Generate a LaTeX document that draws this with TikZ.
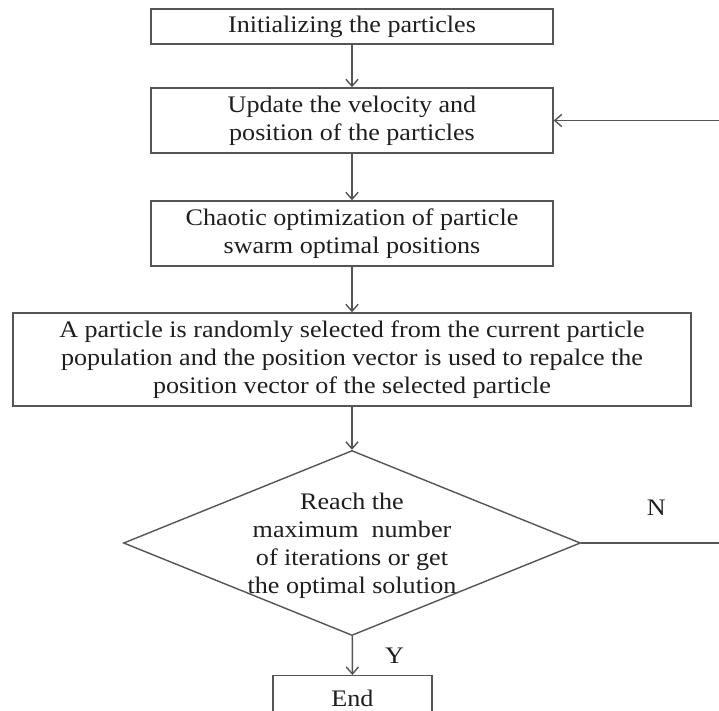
\documentclass[tikz,border=0pt]{standalone}
\usepackage{fontspec}
\setmainfont{Liberation Serif}[FakeStretch=1.1]
\usetikzlibrary{shapes.geometric,arrows.meta}
\definecolor{linegray}{HTML}{555555}
\definecolor{inkgray}{HTML}{1E1E1E}
\begin{document}
\begin{tikzpicture}[
box/.style={draw=linegray,line width=0.8pt,rectangle,inner sep=0pt,align=center,
  text=inkgray,font=\fontsize{13.5}{15.9}\selectfont,minimum width=8.04cm},
flow/.style={draw=linegray,line width=0.8pt,-{Straight Barb[length=4pt,width=7pt]}},
lbl/.style={text=inkgray,font=\fontsize{13.5}{15.9}\selectfont},
]
\clip (0,0) rectangle (14.38,-14.2);
\node[box,minimum height=0.70cm] (init) at (7.04,-0.53) {Initializing the particles};
\node[box,minimum height=1.30cm] (upd) at (7.04,-2.41)
  {Update the velocity and\\position of the particles};
\node[box,minimum height=1.30cm] (chaos) at (7.04,-4.67)
  {Chaotic optimization of particle\\swarm optimal positions};
\node[box,minimum height=1.86cm,minimum width=13.56cm] (sel) at (7.04,-7.19)
  {A particle is randomly selected from the current particle\\
   population and the position vector is used to repalce the\\
   position vector of the selected particle};
% decision: diamond drawn empty, its text set on top
\node[diamond,draw=linegray,line width=0.8pt,inner sep=0pt,
  minimum width=9.14cm,minimum height=3.70cm] (check) at (7.04,-10.86) {};
\node[lbl,align=center] (checktext) at ([yshift=-0.05cm]check.center)
  {Reach the\\maximum\ \ number\\of iterations or get\\the optimal solution};
\node[box,minimum width=3.18cm,minimum height=1.2cm,anchor=north] (finish)
  at (7.05,-13.50) {\raisebox{0.3cm}{End}};
\draw[flow] (init) -- (upd);
\draw[flow] (upd) -- (chaos);
\draw[flow] (chaos) -- (sel);
\draw[flow] (sel) -- (check);
\draw[flow] (check) -- (finish);
\draw[flow] (check.east) -- ++(3,0) coordinate (turn) |- (upd.east);
\node[lbl] (yes) at ([xshift=0.85cm,yshift=-0.4cm]check.south) {Y};
\node[lbl] (no) at ([xshift=1.5cm,yshift=0.7cm]check.east) {N};
\end{tikzpicture}
\end{document}
